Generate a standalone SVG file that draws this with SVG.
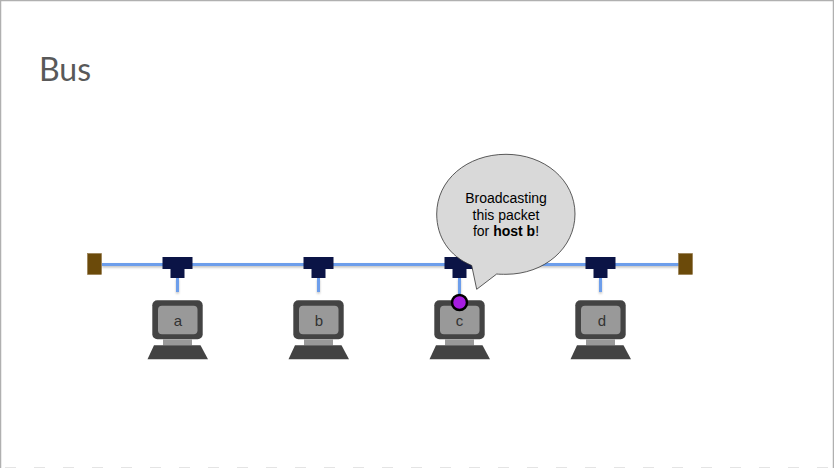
<svg xmlns="http://www.w3.org/2000/svg" width="834" height="468" viewBox="0 0 834 468">
<defs>
<filter id="sh" filterUnits="userSpaceOnUse" x="0" y="0" width="834" height="468" color-interpolation-filters="sRGB"><feDropShadow dx="0" dy="1.500" stdDeviation="1" flood-color="#000" flood-opacity="0.25"/></filter>
<g id="t"><path d="M-15 -7H15V5H7V14H-7V5H-15Z" fill="#0b1446"/></g>
<g id="pc">
<rect x="-25.200" y="0" width="50.400" height="39" rx="5" fill="#434343"/>
<rect x="-19.500" y="5.500" width="39.500" height="28.500" rx="4" fill="#999"/>
<rect x="-14.500" y="39" width="29" height="6" fill="#999"/>
<path d="M-23.500 45H23L30.500 59H-30Z" fill="#434343"/>
</g>
</defs>
<style>
.w{stroke:#6d9eeb;stroke-width:3;fill:none}
.l{font:15px "Liberation Sans",Arial,sans-serif;fill:#333;text-anchor:middle}
.b{font:14px "Liberation Sans",Arial,sans-serif;fill:#000;text-anchor:middle}
.e{fill:#6b4a0a;stroke:#8a6d3b;stroke-width:.5}
</style>
<rect width="834" height="468" fill="#fff"/>
<path d="M.5 468V.5H833.500V468" fill="none" stroke="#b0b0b0" stroke-width="1.500"/>
<path d="M5 467.500H829" stroke="#e4e4e4" stroke-width="1" stroke-dasharray="11 18" fill="none"/>
<text x="39" y="81" style="font:32px Lato,'Liberation Sans',sans-serif;fill:#595959">Bus</text>
<g id="connectors" filter="url(#sh)">
<path class="w" d="M102 264.500H679"/>
<path class="w" d="M177.500 278V292"/>
<path class="w" d="M318.500 278V292"/>
<path class="w" d="M459.500 278V296"/>
<path class="w" d="M600.500 278V292"/>
</g>
<g id="end-left"><rect class="e" x="87.500" y="253.500" width="14" height="21"/></g>
<g id="end-right"><rect class="e" x="678.500" y="253.500" width="14" height="21"/></g>
<g id="tap-a"><use href="#t" x="177.500" y="264"/></g>
<g id="tap-b"><use href="#t" x="318.500" y="264"/></g>
<g id="tap-c"><use href="#t" x="459.500" y="264"/></g>
<g id="tap-d"><use href="#t" x="600.500" y="264"/></g>
<g id="host-a"><use href="#pc" x="177.500" y="300.300"/><text class="l" x="178" y="326">a</text></g>
<g id="host-b"><use href="#pc" x="318.500" y="300.300"/><text class="l" x="319" y="326">b</text></g>
<g id="host-c"><use href="#pc" x="459.500" y="300.300"/><text class="l" x="459.500" y="326">c</text></g>
<g id="host-d"><use href="#pc" x="600.500" y="300.300"/><text class="l" x="602" y="326">d</text></g>
<g id="callout">
<path d="M476.700 289.300L471.700 265.500C449 256 436.700 237 436.700 214C436.700 180 467 154.300 506 154.300C544.500 154.300 575 180 575 214C575 248 544.500 274.300 506 274.300C503 274.300 499 274.300 496.700 274Z" fill="#d9d9d9" stroke="#333" stroke-width=".8"/>
<text class="b" x="506" y="203">Broadcasting</text>
<text class="b" x="506" y="220">this packet</text>
<text class="b" x="506" y="236">for <tspan font-weight="bold">host b</tspan>!</text>
</g>
<g id="packet"><circle cx="459.500" cy="302.500" r="7.500" fill="#a61ce0" stroke="#000" stroke-width="2.500"/></g>
</svg>
